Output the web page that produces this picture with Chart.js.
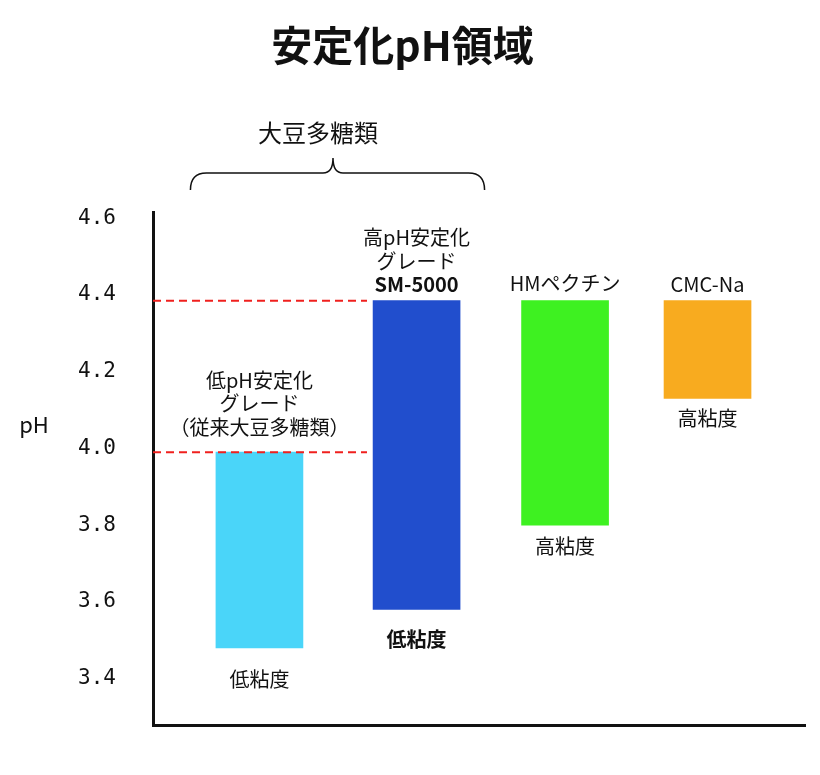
<!DOCTYPE html>
<html>
<head>
<meta charset="utf-8">
<script src="https://cdn.jsdelivr.net/npm/chart.js@4"></script>
<style>
  body { margin: 0; background: #fff; }
</style>
</head>
<body>
<canvas id="phChart" width="820" height="775"></canvas>
<script>
// pH stability ranges

const titleText = '安定化pH領域';
const groupLabel = '大豆多糖類';
const xPositions = [0.653, 1.617, 2.528, 3.402];
const phLow = [3.48, 3.58, 3.80, 4.13];
const phHigh = [3.99, 4.385, 4.385, 4.385];
const barColors = ['#4AD5F9', '#214ECD', '#3EF121', '#F8AB1F'];
const topLabels = [
    ['低pH安定化', 'グレード', '（従来大豆多糖類）'],
    ['高pH安定化', 'グレード', 'SM-5000'],
    ['HMペクチン'],
    ['CMC-Na']
];
const bottomLabels = ['低粘度', '低粘度', '高粘度', '高粘度'];
const yTicks = [3.4, 3.6, 3.8, 4.0, 4.2, 4.4, 4.6];
const dashedLevels = [4.385, 3.99];
const dashedEnd = 1.313;

const jpFont = '"Noto Sans CJK JP", "Noto Sans", sans-serif';

// gaps between bar ends and their labels (px)
const topGap = [25, 16, 17, 16];
const bottomGap = [32, 30, 21, 20];

const labelPlugin = {
    id: 'barLabels',
    afterDraw(chart) {
        const ctx = chart.ctx;
        const x = chart.scales.x;
        const y = chart.scales.y;
        ctx.save();
        ctx.fillStyle = '#111';
        ctx.textAlign = 'center';
        ctx.textBaseline = 'middle';

        xPositions.forEach((pos, i) => {
            const cx = x.getPixelForValue(pos);
            const lines = topLabels[i];
            const topY = y.getPixelForValue(phHigh[i]) - topGap[i];
            lines.forEach((line, j) => {
                const bold = (i === 1 && j === lines.length - 1);
                ctx.font = (bold ? 'bold ' : '') + '20px ' + jpFont;
                ctx.fillText(line, cx, topY - (lines.length - 1 - j) * 23.5);
            });
            ctx.font = (i === 1 ? 'bold ' : '') + '20px ' + jpFont;
            ctx.fillText(bottomLabels[i], cx, y.getPixelForValue(phLow[i]) + bottomGap[i]);
        });

        // y axis name
        ctx.font = '22px ' + jpFont;
        ctx.fillText('pH', 34, 425);

        // brace over the two soybean bars
        const l = x.getPixelForValue(xPositions[0]) - 69;
        const r = x.getPixelForValue(xPositions[1]) + 68;
        const m = 333;
        const yb = 190, yl = 173, yp = 158;
        ctx.strokeStyle = '#111';
        ctx.lineWidth = 1.5;
        ctx.beginPath();
        ctx.moveTo(l, yb);
        ctx.quadraticCurveTo(l, yl, l + 16, yl);
        ctx.lineTo(m - 10, yl);
        ctx.quadraticCurveTo(m, yl, m, yp);
        ctx.quadraticCurveTo(m, yl, m + 10, yl);
        ctx.lineTo(r - 16, yl);
        ctx.quadraticCurveTo(r, yl, r, yb);
        ctx.stroke();

        ctx.font = '24px ' + jpFont;
        ctx.fillText(groupLabel, 318, 133);
        ctx.restore();
    }
};

const ctx = document.getElementById('phChart').getContext('2d');
const chart = new Chart(ctx, {
    type: 'bar',
    data: {
        datasets: [
            {
                label: 'pH range',
                data: xPositions.map((pos, i) => ({ x: pos, y: [phLow[i], phHigh[i]] })),
                backgroundColor: barColors,
                borderWidth: 0,
                barThickness: 87,
                order: 2
            },
            ...dashedLevels.map(level => ({
                type: 'line',
                data: [{ x: 0, y: level }, { x: dashedEnd, y: level }],
                borderColor: '#F0201E',
                borderWidth: 2,
                borderDash: [8, 5],
                pointRadius: 0,
                fill: false,
                order: 1
            }))
        ]
    },
    options: {
        responsive: false,
        animation: false,
        layout: {
            padding: { left: 0, right: 15, top: 0, bottom: 48 }
        },
        plugins: {
            legend: { display: false },
            tooltip: { enabled: false },
            title: {
                display: true,
                text: titleText,
                color: '#111',
                font: { family: jpFont, size: 41, weight: 'bold', lineHeight: 1.2 },
                padding: { top: 21, bottom: 141.8 }
            }
        },
        scales: {
            x: {
                type: 'linear',
                min: 0,
                max: 4,
                offset: false,
                grid: { display: false },
                ticks: { display: false },
                border: { display: true, color: '#111', width: 3 },
                afterFit(scale) { scale.height = 0; }
            },
            y: {
                min: 3.278,
                max: 4.616,
                grid: { display: false, drawTicks: false },
                border: { display: true, color: '#111', width: 3 },
                afterBuildTicks(scale) {
                    scale.ticks = yTicks.map(v => ({ value: v }));
                },
                afterFit(scale) { scale.width = 153; },
                ticks: {
                    padding: 37,
                    color: '#111',
                    font: { family: '"DejaVu Sans Mono", monospace', size: 21 },
                    callback: value => value.toFixed(1)
                }
            }
        }
    },
    plugins: [labelPlugin]
});
</script>
</body>
</html>
